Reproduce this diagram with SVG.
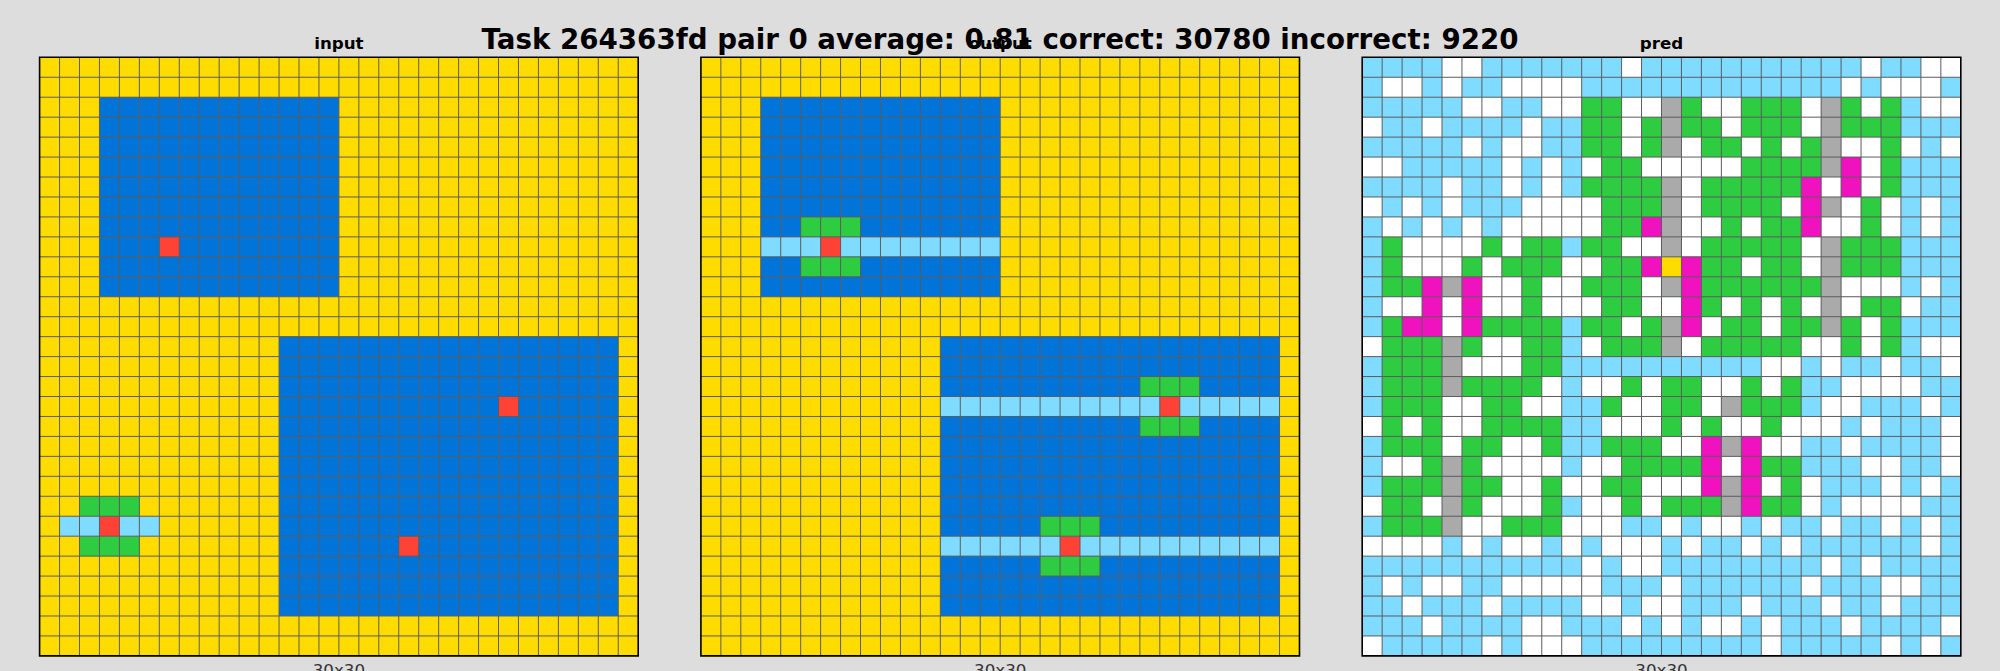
<svg xmlns="http://www.w3.org/2000/svg" xmlns:xlink="http://www.w3.org/1999/xlink" width="2000" height="671" viewBox="0 0 2000 671">
<style>
.t{font-family:"DejaVu Sans","Liberation Sans",sans-serif;font-weight:bold;fill:#000;text-anchor:middle}
.s{font-family:"DejaVu Sans","Liberation Sans",sans-serif;fill:#333;text-anchor:middle;font-size:16.7px}
.yl{fill:#FFDC00}.bl{fill:#0074D9}.rd{fill:#FF4136}.gr{fill:#2ECC40}.lb{fill:#7FDBFF}.wh{fill:#FFFFFF}.gy{fill:#AAAAAA}.mg{fill:#F012BE}
.gl{fill:none;stroke:#5c5c5c;stroke-width:1;vector-effect:non-scaling-stroke}
.bd{fill:none;stroke:#000;stroke-width:1.6;vector-effect:non-scaling-stroke}
</style>
<defs>
<path id="grid" class="gl" d="M1 0V30M2 0V30M3 0V30M4 0V30M5 0V30M6 0V30M7 0V30M8 0V30M9 0V30M10 0V30M11 0V30M12 0V30M13 0V30M14 0V30M15 0V30M16 0V30M17 0V30M18 0V30M19 0V30M20 0V30M21 0V30M22 0V30M23 0V30M24 0V30M25 0V30M26 0V30M27 0V30M28 0V30M29 0V30M0 1H30M0 2H30M0 3H30M0 4H30M0 5H30M0 6H30M0 7H30M0 8H30M0 9H30M0 10H30M0 11H30M0 12H30M0 13H30M0 14H30M0 15H30M0 16H30M0 17H30M0 18H30M0 19H30M0 20H30M0 21H30M0 22H30M0 23H30M0 24H30M0 25H30M0 26H30M0 27H30M0 28H30M0 29H30"/>
</defs>
<rect width="2000" height="671" fill="#DDDDDD"/>

<g id="input" transform="translate(39.6 57.3) scale(19.9533)">
<rect width="30" height="30" class="yl"/>
<rect x="3" y="2" width="12" height="10" class="bl"/>
<rect x="6" y="9" width="1" height="1" class="rd"/>
<rect x="12" y="14" width="17" height="14" class="bl"/>
<rect x="23" y="17" width="1" height="1" class="rd"/>
<rect x="18" y="24" width="1" height="1" class="rd"/>
<rect x="2" y="22" width="3" height="1" class="gr"/>
<rect x="2" y="24" width="3" height="1" class="gr"/>
<rect x="1" y="23" width="5" height="1" class="lb"/>
<rect x="3" y="23" width="1" height="1" class="rd"/>
<use xlink:href="#grid"/>
<rect width="30" height="30" class="bd"/>
</g>

<g id="output" transform="translate(700.9 57.3) scale(19.9533)">
<rect width="30" height="30" class="yl"/>
<rect x="3" y="2" width="12" height="10" class="bl"/>
<rect x="5" y="8" width="3" height="1" class="gr"/>
<rect x="5" y="10" width="3" height="1" class="gr"/>
<rect x="3" y="9" width="12" height="1" class="lb"/>
<rect x="6" y="9" width="1" height="1" class="rd"/>
<rect x="12" y="14" width="17" height="14" class="bl"/>
<rect x="22" y="16" width="3" height="1" class="gr"/>
<rect x="22" y="18" width="3" height="1" class="gr"/>
<rect x="12" y="17" width="17" height="1" class="lb"/>
<rect x="23" y="17" width="1" height="1" class="rd"/>
<rect x="17" y="23" width="3" height="1" class="gr"/>
<rect x="17" y="25" width="3" height="1" class="gr"/>
<rect x="12" y="24" width="17" height="1" class="lb"/>
<rect x="18" y="24" width="1" height="1" class="rd"/>
<use xlink:href="#grid"/>
<rect width="30" height="30" class="bd"/>
</g>

<g id="pred" transform="translate(1362.2 57.3) scale(19.9533)">
<rect width="30" height="30" class="lb"/>
<path class="wh" d="M4 0h2v1h-2zM13 0h1v1h-1zM25 0h1v1h-1zM28 0h2v1h-2zM1 1h2v1h-2zM4 1h1v1h-1zM7 1h4v1h-4zM24 1h1v1h-1zM26 1h3v1h-3zM5 2h2v1h-2zM9 2h2v1h-2zM13 2h2v1h-2zM17 2h2v1h-2zM22 2h1v1h-1zM25 2h1v1h-1zM28 2h2v1h-2zM0 3h1v1h-1zM3 3h1v1h-1zM8 3h1v1h-1zM13 3h1v1h-1zM18 3h1v1h-1zM22 3h1v1h-1zM5 4h1v1h-1zM7 4h2v1h-2zM13 4h1v1h-1zM16 4h1v1h-1zM19 4h1v1h-1zM21 4h1v1h-1zM24 4h2v1h-2zM27 4h1v1h-1zM29 4h1v1h-1zM0 5h2v1h-2zM7 5h1v1h-1zM9 5h1v1h-1zM11 5h1v1h-1zM14 5h5v1h-5zM25 5h1v1h-1zM4 6h1v1h-1zM7 6h1v1h-1zM9 6h1v1h-1zM16 6h1v1h-1zM23 6h1v1h-1zM25 6h1v1h-1zM0 7h1v1h-1zM2 7h1v1h-1zM4 7h1v1h-1zM8 7h4v1h-4zM16 7h1v1h-1zM21 7h1v1h-1zM24 7h1v1h-1zM26 7h1v1h-1zM28 7h1v1h-1zM1 8h1v1h-1zM3 8h1v1h-1zM5 8h1v1h-1zM7 8h5v1h-5zM16 8h2v1h-2zM19 8h1v1h-1zM23 8h2v1h-2zM26 8h1v1h-1zM28 8h1v1h-1zM2 9h4v1h-4zM7 9h1v1h-1zM13 9h2v1h-2zM16 9h1v1h-1zM22 9h1v1h-1zM2 10h3v1h-3zM6 10h1v1h-1zM10 10h2v1h-2zM19 10h1v1h-1zM22 10h1v1h-1zM6 11h2v1h-2zM9 11h2v1h-2zM14 11h1v1h-1zM24 11h3v1h-3zM28 11h1v1h-1zM1 12h2v1h-2zM4 12h1v1h-1zM6 12h2v1h-2zM9 12h3v1h-3zM14 12h2v1h-2zM18 12h1v1h-1zM20 12h1v1h-1zM22 12h1v1h-1zM24 12h1v1h-1zM27 12h1v1h-1zM4 13h1v1h-1zM13 13h1v1h-1zM17 13h1v1h-1zM20 13h1v1h-1zM25 13h1v1h-1zM0 14h1v1h-1zM6 14h2v1h-2zM11 14h1v1h-1zM16 14h1v1h-1zM22 14h2v1h-2zM25 14h1v1h-1zM28 14h2v1h-2zM5 15h3v1h-3zM20 15h2v1h-2zM23 15h1v1h-1zM26 15h1v1h-1zM29 15h1v1h-1zM9 16h1v1h-1zM11 16h2v1h-2zM14 16h1v1h-1zM17 16h2v1h-2zM20 16h1v1h-1zM24 16h4v1h-4zM4 17h2v1h-2zM8 17h2v1h-2zM13 17h2v1h-2zM17 17h1v1h-1zM23 17h2v1h-2zM28 17h1v1h-1zM0 18h1v1h-1zM2 18h1v1h-1zM4 18h2v1h-2zM12 18h3v1h-3zM16 18h1v1h-1zM18 18h2v1h-2zM21 18h3v1h-3zM25 18h1v1h-1zM29 18h1v1h-1zM4 19h1v1h-1zM7 19h2v1h-2zM15 19h2v1h-2zM20 19h2v1h-2zM24 19h1v1h-1zM29 19h1v1h-1zM1 20h2v1h-2zM6 20h4v1h-4zM11 20h2v1h-2zM18 20h1v1h-1zM25 20h2v1h-2zM29 20h1v1h-1zM7 21h2v1h-2zM10 21h2v1h-2zM14 21h3v1h-3zM20 21h1v1h-1zM22 21h1v1h-1zM26 21h1v1h-1zM28 21h1v1h-1zM0 22h1v1h-1zM3 22h1v1h-1zM6 22h3v1h-3zM11 22h2v1h-2zM14 22h1v1h-1zM22 22h1v1h-1zM24 22h4v1h-4zM5 23h2v1h-2zM10 23h3v1h-3zM15 23h1v1h-1zM17 23h2v1h-2zM20 23h1v1h-1zM23 23h1v1h-1zM26 23h1v1h-1zM28 23h1v1h-1zM0 24h4v1h-4zM5 24h1v1h-1zM7 24h2v1h-2zM10 24h1v1h-1zM12 24h3v1h-3zM16 24h1v1h-1zM19 24h1v1h-1zM21 24h1v1h-1zM28 24h1v1h-1zM11 25h1v1h-1zM13 25h2v1h-2zM23 25h1v1h-1zM25 25h1v1h-1zM1 26h1v1h-1zM3 26h2v1h-2zM7 26h5v1h-5zM15 26h1v1h-1zM22 26h1v1h-1zM26 26h2v1h-2zM2 27h1v1h-1zM6 27h1v1h-1zM11 27h2v1h-2zM14 27h2v1h-2zM19 27h1v1h-1zM23 27h1v1h-1zM26 27h1v1h-1zM3 28h1v1h-1zM8 28h2v1h-2zM13 28h1v1h-1zM15 28h1v1h-1zM17 28h2v1h-2zM20 28h1v1h-1zM24 28h1v1h-1zM29 28h1v1h-1zM0 29h1v1h-1zM6 29h1v1h-1zM8 29h3v1h-3zM20 29h1v1h-1zM26 29h1v1h-1zM28 29h1v1h-1z"/>
<path class="gr" d="M11 2h2v1h-2zM16 2h1v1h-1zM19 2h3v1h-3zM24 2h1v1h-1zM26 2h1v1h-1zM11 3h2v1h-2zM14 3h1v1h-1zM16 3h2v1h-2zM19 3h3v1h-3zM24 3h3v1h-3zM11 4h2v1h-2zM14 4h1v1h-1zM17 4h2v1h-2zM20 4h1v1h-1zM22 4h1v1h-1zM26 4h1v1h-1zM12 5h2v1h-2zM19 5h4v1h-4zM26 5h1v1h-1zM11 6h4v1h-4zM17 6h5v1h-5zM26 6h1v1h-1zM12 7h3v1h-3zM17 7h4v1h-4zM25 7h1v1h-1zM12 8h2v1h-2zM18 8h1v1h-1zM20 8h2v1h-2zM25 8h1v1h-1zM1 9h1v1h-1zM6 9h1v1h-1zM8 9h2v1h-2zM11 9h2v1h-2zM17 9h5v1h-5zM24 9h3v1h-3zM1 10h1v1h-1zM5 10h1v1h-1zM7 10h3v1h-3zM12 10h2v1h-2zM17 10h2v1h-2zM20 10h2v1h-2zM24 10h3v1h-3zM1 11h2v1h-2zM8 11h1v1h-1zM11 11h3v1h-3zM17 11h6v1h-6zM8 12h1v1h-1zM12 12h2v1h-2zM17 12h1v1h-1zM19 12h1v1h-1zM21 12h1v1h-1zM25 12h2v1h-2zM1 13h1v1h-1zM6 13h4v1h-4zM11 13h2v1h-2zM14 13h1v1h-1zM18 13h2v1h-2zM21 13h2v1h-2zM24 13h1v1h-1zM26 13h1v1h-1zM1 14h3v1h-3zM5 14h1v1h-1zM8 14h2v1h-2zM12 14h3v1h-3zM17 14h5v1h-5zM24 14h1v1h-1zM26 14h1v1h-1zM1 15h3v1h-3zM8 15h2v1h-2zM1 16h3v1h-3zM5 16h4v1h-4zM13 16h1v1h-1zM15 16h2v1h-2zM19 16h1v1h-1zM21 16h1v1h-1zM1 17h3v1h-3zM6 17h2v1h-2zM12 17h1v1h-1zM15 17h2v1h-2zM19 17h3v1h-3zM1 18h1v1h-1zM3 18h1v1h-1zM6 18h4v1h-4zM15 18h1v1h-1zM17 18h1v1h-1zM20 18h1v1h-1zM1 19h3v1h-3zM5 19h2v1h-2zM9 19h1v1h-1zM12 19h3v1h-3zM3 20h1v1h-1zM5 20h1v1h-1zM13 20h4v1h-4zM20 20h2v1h-2zM1 21h3v1h-3zM5 21h2v1h-2zM9 21h1v1h-1zM12 21h2v1h-2zM21 21h1v1h-1zM1 22h2v1h-2zM5 22h1v1h-1zM9 22h1v1h-1zM13 22h1v1h-1zM15 22h3v1h-3zM20 22h2v1h-2zM1 23h3v1h-3zM7 23h3v1h-3z"/>
<path class="gy" d="M15 2h1v1h-1zM23 2h1v1h-1zM15 3h1v1h-1zM23 3h1v1h-1zM15 4h1v1h-1zM23 4h1v1h-1zM23 5h1v1h-1zM15 6h1v1h-1zM15 7h1v1h-1zM23 7h1v1h-1zM15 8h1v1h-1zM15 9h1v1h-1zM23 9h1v1h-1zM23 10h1v1h-1zM4 11h1v1h-1zM15 11h1v1h-1zM23 11h1v1h-1zM23 12h1v1h-1zM15 13h1v1h-1zM23 13h1v1h-1zM4 14h1v1h-1zM15 14h1v1h-1zM4 15h1v1h-1zM4 16h1v1h-1zM18 17h1v1h-1zM18 19h1v1h-1zM4 20h1v1h-1zM4 21h1v1h-1zM18 21h1v1h-1zM4 22h1v1h-1zM18 22h1v1h-1zM4 23h1v1h-1z"/>
<path class="mg" d="M24 5h1v1h-1zM22 6h1v1h-1zM24 6h1v1h-1zM22 7h1v1h-1zM14 8h1v1h-1zM22 8h1v1h-1zM14 10h1v1h-1zM16 10h1v1h-1zM3 11h1v1h-1zM5 11h1v1h-1zM16 11h1v1h-1zM3 12h1v1h-1zM5 12h1v1h-1zM16 12h1v1h-1zM2 13h2v1h-2zM5 13h1v1h-1zM16 13h1v1h-1zM17 19h1v1h-1zM19 19h1v1h-1zM17 20h1v1h-1zM19 20h1v1h-1zM17 21h1v1h-1zM19 21h1v1h-1zM19 22h1v1h-1z"/>
<rect x="15" y="10" width="1" height="1" class="yl"/>
<use xlink:href="#grid"/>
<rect width="30" height="30" class="bd"/>
</g>

<g id="labels">
<text class="t" x="338.9" y="49" font-size="16.7">input</text>
<text class="t" x="1000.2" y="49" font-size="16.7">output</text>
<text class="t" x="1661.5" y="49" font-size="16.7">pred</text>
<text class="s" x="338.9" y="675.5">30x30</text>
<text class="s" x="1000.2" y="675.5">30x30</text>
<text class="s" x="1661.5" y="675.5">30x30</text>
<text class="t" x="1000" y="49" font-size="27.7">Task 264363fd pair 0 average: 0.81 correct: 30780 incorrect: 9220</text>
</g>
</svg>
